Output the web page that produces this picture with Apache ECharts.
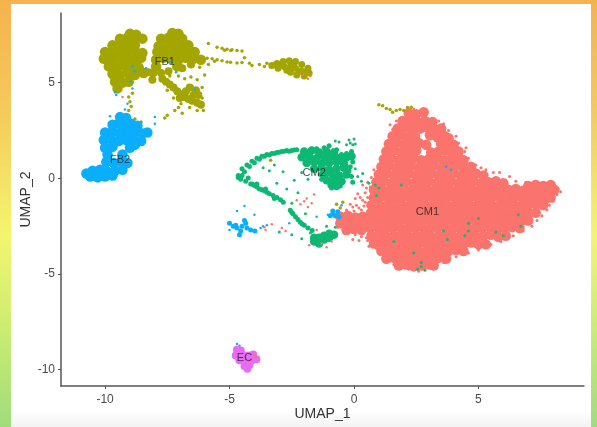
<!DOCTYPE html>
<html><head><meta charset="utf-8">
<script src="https://cdn.jsdelivr.net/npm/echarts@6/dist/echarts.min.js"></script>
<style>
html,body{margin:0;padding:0;width:597px;height:427px;overflow:hidden}
body{background:linear-gradient(180deg,#f6b24e 0%,#f5c95a 25%,#f4f56f 55%,#c9ec72 78%,#9fdc7c 100%);position:relative}
#frame{position:absolute;left:11px;top:4px;width:580px;height:423px;background:linear-gradient(180deg,#fff 0,#fff 96%,#f3f3f3 100%)}
#c{position:absolute;left:0;top:0;width:597px;height:427px;filter:blur(.75px)}
</style></head><body><div id="frame"></div><div id="c"></div>
<script>
const xTicks=[-10,-5,0,5];
const yTicks=[-10,-5,0,5];
const clusterLabels=[["FB1",-7.6,6.1],["FB2",-9.4,0.95],["CM2",-1.6,0.3],["CM1",2.95,-1.75],["EC",-4.4,-9.4]];
const cm1Core=[[2.2,3.4],[2.5,3.35],[2.8,3.45],
[1.95,3],[2.25,3.05],[2.55,2.95],[2.85,3],[3.15,2.95],
[1.75,2.6],[2.05,2.65],[2.35,2.55],[2.65,2.6],[2.95,2.65],[3.25,2.55],[3.5,2.6],
[1.55,2.2],[1.85,2.25],[2.15,2.15],[2.45,2.2],[3.05,2.25],[3.35,2.15],[3.65,2.2],[3.8,2.1],
[1.4,1.8],[1.7,1.85],[2,1.75],[2.3,1.8],[2.6,1.85],[2.9,1.75],[3.5,1.8],[3.8,1.85],[4,1.75],
[1.3,1.4],[1.6,1.45],[1.9,1.35],[2.2,1.4],[2.5,1.45],[3.1,1.35],[3.4,1.4],[3.7,1.45],[4,1.35],[4.2,1.4],
[1.2,1],[1.5,1.05],[1.8,.95],[2.1,1],[2.4,1.05],[2.7,.95],[3,1],[3.3,1.05],[3.6,.95],[3.9,1],[4.2,1.05],[4.4,.95],
[1.1,.6],[1.4,.65],[1.7,.55],[2,.6],[2.3,.65],[2.6,.55],[2.9,.6],[3.2,.65],[3.5,.55],[3.8,.6],[4.1,.65],[4.4,.55],[4.7,.6],
[1,.2],[1.3,.25],[1.6,.15],[1.9,.2],[2.2,.25],[2.5,.15],[2.8,.2],[3.1,.25],[3.4,.15],[3.7,.2],[4,.25],[4.3,.15],[4.6,.2],[4.9,.25],[5.2,.15],
[.9,-.2],[1.2,-.15],[1.5,-.25],[1.8,-.2],[2.1,-.15],[2.4,-.25],[2.7,-.2],[3,-.15],[3.3,-.25],[3.6,-.2],[3.9,-.15],[4.2,-.25],[4.5,-.2],[4.8,-.15],[5.1,-.25],[5.4,-.2],[5.7,-.15],[6,-.25],[7,-.4],[7.3,-.35],[7.6,-.4],[7.9,-.35],
[.8,-.6],[1.1,-.55],[1.4,-.65],[1.7,-.6],[2,-.55],[2.3,-.65],[2.6,-.6],[2.9,-.55],[3.2,-.65],[3.5,-.6],[3.8,-.55],[4.1,-.65],[4.4,-.6],[4.7,-.55],[5,-.65],[5.3,-.6],[5.6,-.55],[5.9,-.65],[6.2,-.6],[6.5,-.55],[6.8,-.65],[7.1,-.6],[7.4,-.7],[7.7,-.65],[8.05,-.6],
[.8,-1],[1.1,-.95],[1.4,-1.05],[1.7,-1],[2,-.95],[2.3,-1.05],[2.6,-1],[2.9,-.95],[3.2,-1.05],[3.5,-1],[3.8,-.95],[4.1,-1.05],[4.4,-1],[4.7,-.95],[5,-1.05],[5.3,-1],[5.6,-.95],[5.9,-1.05],[6.2,-1],[6.5,-.95],[6.8,-1.05],[7.1,-1],[7.4,-.95],[7.7,-1.05],[7.9,-1],
[.7,-1.4],[1,-1.35],[1.3,-1.45],[1.6,-1.4],[1.9,-1.35],[2.2,-1.45],[2.5,-1.4],[2.8,-1.35],[3.1,-1.45],[3.4,-1.4],[3.7,-1.35],[4,-1.45],[4.3,-1.4],[4.6,-1.35],[4.9,-1.45],[5.2,-1.4],[5.5,-1.35],[5.8,-1.45],[6.1,-1.4],[6.4,-1.35],[6.7,-1.45],[7,-1.4],[7.3,-1.35],[7.6,-1.4],
[.7,-1.8],[1,-1.75],[1.3,-1.85],[1.6,-1.8],[1.9,-1.75],[2.2,-1.85],[2.5,-1.8],[2.8,-1.75],[3.1,-1.85],[3.4,-1.8],[3.7,-1.75],[4,-1.85],[4.3,-1.8],[4.6,-1.75],[4.9,-1.85],[5.2,-1.8],[5.5,-1.75],[5.8,-1.85],[6.1,-1.8],[6.4,-1.75],[6.7,-1.85],[7,-1.8],[7.3,-1.8],
[.7,-2.2],[1,-2.15],[1.3,-2.25],[1.6,-2.2],[1.9,-2.15],[2.2,-2.25],[2.5,-2.2],[2.8,-2.15],[3.1,-2.25],[3.4,-2.2],[3.7,-2.15],[4,-2.25],[4.3,-2.2],[4.6,-2.15],[4.9,-2.25],[5.2,-2.2],[5.5,-2.15],[5.8,-2.25],[6.1,-2.2],[6.4,-2.15],[6.7,-2.25],[7,-2.2],
[.65,-2.6],[.95,-2.55],[1.25,-2.65],[1.55,-2.6],[1.85,-2.55],[2.15,-2.65],[2.45,-2.6],[2.75,-2.55],[3.05,-2.65],[3.35,-2.6],[3.65,-2.55],[3.95,-2.65],[4.25,-2.6],[4.55,-2.55],[4.85,-2.65],[5.15,-2.6],[5.45,-2.55],[5.75,-2.65],[6.05,-2.6],[6.35,-2.55],[6.65,-2.6],
[.7,-3],[1,-2.95],[1.3,-3.05],[1.6,-3],[1.9,-2.95],[2.2,-3.05],[2.5,-3],[2.8,-2.95],[3.1,-3.05],[3.4,-3],[3.7,-2.95],[4,-3.05],[4.3,-3],[4.6,-2.95],[4.9,-3.05],[5.2,-3],[5.5,-2.95],[5.8,-3.05],[6.1,-3],
[.8,-3.4],[1.1,-3.35],[1.4,-3.45],[1.7,-3.4],[2,-3.35],[2.3,-3.45],[2.6,-3.4],[2.9,-3.35],[3.2,-3.45],[3.5,-3.4],[3.8,-3.35],[4.1,-3.45],[4.4,-3.4],[4.7,-3.35],[5,-3.45],[5.3,-3.45],
[1.1,-3.8],[1.4,-3.75],[1.7,-3.85],[2,-3.8],[2.3,-3.75],[2.6,-3.85],[2.9,-3.8],[3.2,-3.75],[3.5,-3.85],[3.8,-3.8],[4.1,-3.75],[4.4,-3.8],
[1.3,-4.2],[1.6,-4.15],[1.9,-4.25],[2.2,-4.2],[2.5,-4.15],[2.8,-4.25],[3.1,-4.2],[3.4,-4.15],[3.7,-4.2],
[1.8,-4.55],[2.1,-4.5],[2.4,-4.6],[2.7,-4.55],[3,-4.5],[3.2,-4.55],
[-.55,-2],[-.25,-1.95],[.05,-2.05],[.35,-2],[-.55,-2.35],[-.25,-2.3],[.05,-2.4],[.35,-2.35],[-.3,-2.7],[0,-2.65],[.3,-2.7]];
const cm1Fine=[[2.4,3.62],[2.15,3.45],[1.7,3],[1.55,2.55],[1.45,2.8],[3.4,3],[3.6,2.85],[3.8,2.5],[4.1,2.2],[4.2,1.85],[4.45,1.4],[4.6,1.05],[4.5,1.6],[4.9,.7],[5.1,.55],[5.3,.45],[5.6,.3],[5.85,.3],[6.25,.1],[6.5,-.15],[6.9,-.2],[7.2,-.2],[7.6,-.25],[8,-.35],[8.2,-.55],[8.3,-.7],[8.15,-.85],[8,-1.2],[7.85,-1.4],[7.75,-1.65],[7.55,-1.95],[7.35,-2.2],[7.15,-2.5],[6.8,-2.75],[6.4,-3],[5.9,-3.3],[5.5,-3.45],[5,-3.75],[4.6,-3.9],[4.1,-4.1],[3.6,-4.4],[3.3,-4.7],[2.6,-4.85],[2.2,-4.75],[1.6,-4.5],[1.2,-4.05],[.9,-3.65],[.55,-3.25],[.3,-3.05],[.05,-2.95],
[.15,-.8],[.45,-.75],[.05,-1.05],[.35,-1.15],[.55,-1],[-.15,-1.35],[.1,-1.4],[.4,-1.45],[-.3,-1.65],[0,-1.7],[.3,-1.65],[.55,-1.7],[.5,-3.1],[.6,-2.85],[.55,-.2],[.65,-.45],[.7,.05],[.8,.45],[.5,-.5],[.35,-.35],[.6,-3.55],[.2,-3.25],[-.05,-3.2],[-.4,-2.85],[-.65,-2.55],[-.7,-1.95],[.25,-1],[-.05,-1.5],[.2,-1.55],[.45,-1.25],[.6,-1.3],[.5,-1.85]];
const cm2Core=[[-2,1.4],[-1.7,1.45],[-1.4,1.35],[-1.1,1.4],[-.8,1.35],[-2.1,1.1],[-1.8,1.15],[-1.5,1.05],[-1.2,1.1],[-.9,1.15],[-.6,1.05],[-.3,1.1],[-.1,1.15],[-1.9,.8],[-1.6,.85],[-1.3,.75],[-1,.8],[-.7,.85],[-.4,.75],[-1.6,.5],[-1.3,.55],[-1,.45],[-.7,.5],[-.4,.55],[-1.2,.2],[-.9,.25],[-.6,.15],[-.3,.2],[-1.1,-.1],[-.8,-.05],[-.5,-.15],[-.9,-.35],[-.7,-.4],
[-1.6,-3.3],[-1.4,-3.4],[-1.2,-3.2],[-1.4,-3.1],[-1.6,-3.1],[-1.2,-3],[-1,-2.9],[-1,-3.1],[-.8,-2.95]];
const cm2Arc=[[-4.65,.15],[-4.5,.5],[-4.4,.35],[-4.3,.7],[-4.2,.62],[-4.1,.9],[-4,.82],[-3.9,1.05],[-3.8,1],[-3.7,1.15],[-3.6,1.15],[-3.5,1.25],[-3.4,1.22],[-3.3,1.3],[-3.2,1.3],[-3.1,1.35],[-3,1.36],[-2.9,1.4],[-2.8,1.42],[-2.7,1.45],[-2.6,1.42],[-2.5,1.45],[-2.4,1.48],[-2.3,1.5],[-4.65,.05],[-4.55,-.05],[-4.5,.15],[-4.35,-.15],[-4.25,.02],[-4.15,-.3],[-4.08,-.3],[-4,-.38],[-3.9,-.45],[-3.8,-.55],[-3.7,-.6],[-3.6,-.65],[-3.5,-.72],[-3.4,-.8],[-3.25,-.9],[-3.1,-1],[-2.95,-1.12],[-2.84,-1.25],[-3.55,-.55],[-3.9,-.3],[-3.2,-1.05],
[-2.56,-1.67],[-2.5,-1.78],[-2.45,-1.85],[-2.35,-2],[-2.25,-2.15],[-2.16,-2.3],[-2.08,-2.38],[-2,-2.45],[-1.85,-2.6],[-1.68,-2.72],
[-.5,1.25],[-.3,1.3],[-.7,1.5],[-.1,1.4],[-1.2,1.6],[-1.5,1.55],[-1,1.7],[-.05,.85],[-.15,.6],[-.2,.4],[-.1,.1],[-.9,-.5],[-.55,-.4],[-.05,-.2],[-1.3,-.05],[-1.35,.2]];
const cm2Scatter=[[-1.05,1.6],[-.85,1.5],[-1.25,1.25],[-.75,1.95],[-.6,1.9],[-.3,1.75],[-.15,1.85],[0,2.05],[-.05,1.75],[.05,1.8],[-.2,2],[.3,-.15],[.15,.1],[.05,.5],[.35,.25],[.6,-.25],[.85,-.35],[1,-.5],[-3.65,.55],[-3.4,.4],[-3.2,.7],[-2.85,.35],[-3.1,-.25],[-2.7,-.55],[-2.4,-.1],[-2.1,.3],[-2.25,-.75],[-1.85,-.05],[-1.95,-1.85],[-2.5,-2.95],[-3,-2.8],[-1.75,-2.85],[-1.1,-2.5],[-.75,-2.55],[-2.1,-3.15],[-2.5,-1.3],[2.55,-4.75],[2.7,-4.6],[2.85,-4.8],[4.45,-3],[4.6,-2.75],[5.7,-2.8],[6,-3],[3.6,-2.75],[3.75,-3.2],[1.9,-.35],[1.6,-3.3],[6.7,-2.5],[6.6,-1.9],[4.6,-2.35],[5,-2.1],[.9,-.9],[2.4,-3.9],[2.7,-4.4]];
const fb1Core=[[-9,7.55],[-8.75,7.5],[-7.3,7.6],[-7.05,7.55],[-9.4,7.3],[-9.1,7.35],[-8.8,7.25],[-8.5,7.3],[-7.75,7.3],[-7.45,7.35],[-7.15,7.25],[-6.9,7.3],
[-9.7,6.95],[-9.4,7],[-9.1,6.9],[-8.8,6.95],[-7.85,6.9],[-7.55,6.95],[-7.25,7],[-6.95,6.9],[-6.65,6.95],
[-10,6.6],[-9.7,6.65],[-9.4,6.55],[-9.1,6.6],[-8.8,6.65],[-8.5,6.55],[-7.9,6.6],[-7.6,6.65],[-7.3,6.55],[-7,6.6],[-6.7,6.65],[-6.4,6.6],
[-10.05,6.25],[-9.75,6.2],[-9.45,6.3],[-9.15,6.25],[-8.85,6.2],[-8.55,6.3],[-7.95,6.2],[-7.65,6.3],[-7.35,6.25],[-7.05,6.2],[-6.75,6.3],[-6.45,6.25],[-6.15,6.2],
[-9.85,5.85],[-9.55,5.8],[-9.25,5.9],[-8.95,5.85],[-8.65,5.8],[-7.95,5.85],[-7.1,5.85],
[-9.7,5.45],[-9.4,5.4],[-9.1,5.5],[-8.8,5.4],[-8.45,5.5],
[-9.6,5.05],[-9.3,5],[-9.05,5.05],[-9.5,4.7]];
const fb1Branch=[[-7.7,5.2],[-7.55,5.05],[-7.4,4.9],[-7.25,4.75],[-7.1,4.55],[-6.95,4.4],[-6.8,4.25],[-6.65,4.15],[-6.5,4.05],[-6.3,3.95],[-6.15,3.85],[-7,4.2],[-6.75,4.55],[-6.6,4.75],[-6.35,4.6],[-6.25,4.35],[-6.45,4.35],[-8.1,5.15],[-8.25,5.55],[-8.05,5.5],[-7.75,5.5],[-7.45,5.6],[-6.9,5.75],[-6.55,5.95]];
const fb1Fine=[[-5.9,6.28],[-5.7,6.25],[-5.5,6.2],[-5.3,6.15],[-5.1,6.08],[-4.96,6.07],[-5.6,6.12],[-6.1,6.25],[-5.5,6.85],[-5.3,6.8],[-5.1,6.75],[-4.9,6.72],[-4.7,6.68],[-4.5,6.65],[-5.2,6.7],[-4.95,6.68],[-5.85,7.05],[-4.7,6.03],[-4.5,6.05],[-4.2,6.02],[-4.1,5.9],[-3.8,5.95],[-3.6,5.85],[-3.5,6.02],[-4.4,6.3],
[-6.6,3.7],[-6.3,3.55],[-6.05,3.55],[-6.5,4.8],[-6.1,4.75],[-6.3,5.15],[-6,5.4],[-7.05,5.35],[-6.8,5.2],[-6.55,5.3],[-7.4,5.35],[-6.2,5.8],[-5.85,5.95],[-6.1,4.2],[-6.95,3.9],[-7.5,4.6],[-7.25,4.2],
[-9.05,4.25],[-9,4],[-8.95,3.75],[-9.05,3.55],[-8.9,4.45],[-7.2,3.55],[-7.05,3.7],[-6.9,3.4],[-7.6,3.15],[-7.5,3.3],[-8.8,3.1],[-8.55,2.95],[-8.95,2.9],
[1,3.85],[1.15,3.8],[1.3,3.65],[1.45,3.6],[1.55,3.45],[1.7,3.55],[1.85,3.6],[2.15,3.7],[2.3,3.72],[2,3.55],[-.45,-1.25],[-.7,-1.35],[-.55,-1.55],[-3.35,.95]];
const fb1Tail=[[-3.3,5.9],[-3.1,6],[-3.05,5.75],[-2.85,6.1],[-2.8,5.85],[-2.6,6.15],[-2.55,5.85],[-2.55,5.55],[-2.35,6.1],[-2.35,5.75],[-2.3,5.4],[-2.1,5.95],[-2.1,5.6],[-2,5.35],[-1.85,5.75],[-1.8,5.5],[-2.7,5.65],[-2.95,5.95],[-2.45,5.95],[-2.2,5.6],[-1.95,5.55]];
const fb2Core=[[-9.4,3.2],[-9.15,3.15],[-9.7,2.8],[-9.45,2.85],[-9.2,2.75],[-8.95,2.85],[-8.7,2.75],[-10,2.4],[-9.7,2.45],[-9.4,2.35],[-9.1,2.4],[-8.8,2.45],[-8.5,2.35],[-8.3,2.4],[-10.05,2],[-9.75,2.05],[-9.45,1.95],[-9.15,2],[-8.85,2.05],[-8.55,1.95],[-10,1.6],[-9.7,1.65],[-9,1.6],[-8.8,1.75],[-9.9,1.25],[-9.3,1.25],[-9.95,.85],[-9.65,.8],[-9.35,.85],[-9.1,.8],[-10.5,.4],[-10.2,.45],[-9.9,.35],[-9.6,.4],[-9.3,.45],[-10.6,.1],[-10.3,.05],[-10,.1],[-9.7,.15],[-10.75,.25]];
const fb2Small=[[-5,-2.35],[-4.85,-2.5],[-4.7,-2.6],[-4.55,-2.75],[-4.5,-2.5],[-4.35,-2.35],[-4.3,-2.6],[-4.15,-2.7],[-3.98,-2.75],[-4.6,-2.95],[-4.75,-2.45],[-4.4,-2.2],[-.85,-1.85],[-.75,-1.95],[-.65,-1.75],[-.95,-1.95],[-.6,-2],[-.85,-1.7]];
const fb2Fine=[[-9.6,4.5],[-9.55,4.35],[-9.2,3.6],[-9.1,3.9],[-9.8,3.25],[-8.9,4.7],[-8.35,5.75],[-7.4,6.05],[-7.15,5.55],[-8.9,5.85],[-8.8,5.6],[-6.4,4.65],[-8,2.85],[-8,3.2],[-8.95,5.05],[-4.7,-1.7],[-4.4,-1.45],[-4,-1.9],[-5,-2.7],[-3.75,-2.6],[-2.6,-2.35],[-1.5,-2],[-1.05,-1.9],[-.5,-1.4],[3.9,.45],[3.7,.6],[-4.7,-8.65],[-4.6,-8.75],[-3.5,-2.45],[-3.65,-2.5]];
const ecCore=[[-4.7,-8.95],[-4.55,-9.0],[-4.75,-9.25],[-4.5,-9.2],[-4.25,-9.25],[-4.05,-9.2],[-4.6,-9.5],[-4.35,-9.5],[-4.1,-9.5],[-3.92,-9.45],[-4.4,-9.8],[-4.2,-9.75],[-4.28,-9.95]];
const cm1Stray=[[-2,-1.2],[-1.85,-1.5],[-2.15,-1.35],[-1.9,-1.05],[-2.3,-1.15],[-1.7,-1.3],[-1.6,-.85],[-3.3,-2.4],[-2.9,-2.6],[-2.75,-2.75],[-3.55,-2.7],[-1.5,-2.7],[-1.3,-3.4],[-1.1,-3.6],[-.9,-3.3],[-1.8,-3.5],[-2.05,5.4],[-1.85,5.2],[-1.75,5.35],[-9.3,4.25],[-4,-9.2],[-3.95,-9.35],[-3.6,-2.55]];
const clusters=[
 {data:cm1Core,color:"#fa736c",size:10.5},{data:cm1Fine,color:"#fa736c",size:3},
 {data:cm2Core,color:"#0cb873",size:8.5},{data:cm2Arc,color:"#0cb873",size:5},{data:cm2Scatter,color:"#1cb577",size:3},
 {data:fb1Core,color:"#a3a500",size:10.5},{data:fb1Branch,color:"#a3a500",size:8},{data:fb1Fine,color:"#a3a500",size:3.5},{data:fb1Tail,color:"#a3a500",size:7},
 {data:fb2Core,color:"#0aaefb",size:10.5},{data:fb2Small,color:"#0aaefb",size:5},{data:fb2Fine,color:"#0aaefb",size:2.5},
 {data:ecCore,color:"#e76bf3",size:8},{data:cm1Stray,color:"#f8766d",size:2.5}];
const tickLabel={color:"#4a4a4a",fontSize:12,fontFamily:"Liberation Sans",margin:8};
const chart=echarts.init(document.getElementById("c"),null,{renderer:"canvas"});
chart.setOption({animation:false,backgroundColor:"transparent",
 grid:{left:61,top:13,width:523,height:373,outerBoundsMode:"none"},
 xAxis:{type:"value",min:-11.77,max:9.24,splitLine:{show:false},
  name:"UMAP_1",nameLocation:"middle",nameGap:21,nameMoveOverlap:false,nameTextStyle:{color:"#333",fontSize:14,fontFamily:"Liberation Sans"},
  axisLine:{onZero:false,lineStyle:{color:"#555",width:1.5}},
  axisTick:{customValues:xTicks,length:3,lineStyle:{color:"#555"}},
  axisLabel:Object.assign({customValues:xTicks},tickLabel)},
 yAxis:{type:"value",min:-10.85,max:8.64,splitLine:{show:false},
  name:"UMAP_2",nameLocation:"middle",nameGap:28,nameMoveOverlap:false,nameTextStyle:{color:"#333",fontSize:14,fontFamily:"Liberation Sans"},
  axisLine:{onZero:false,lineStyle:{color:"#555",width:1.5}},
  axisTick:{customValues:yTicks,length:3,lineStyle:{color:"#555"}},
  axisLabel:Object.assign({customValues:yTicks},tickLabel,{margin:6})},
 series:clusters.map(s=>({type:"scatter",data:s.data,symbolSize:s.size,itemStyle:{color:s.color,opacity:1},silent:true})).concat([{
  type:"scatter",symbolSize:0,silent:true,z:10,
  data:clusterLabels.map(l=>({value:[l[1],l[2]],name:l[0]})),
  label:{show:true,position:"inside",formatter:"{b}",color:"#222",fontSize:11,fontFamily:"Liberation Sans"}}])
});
</script></body></html>
